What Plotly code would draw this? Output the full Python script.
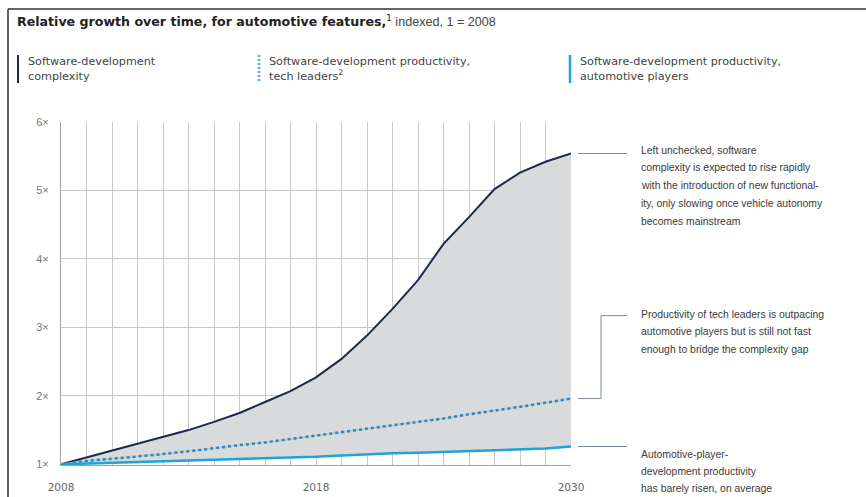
import plotly.graph_objects as go

# ---------------- data ----------------
period_index = list(range(21))            # evenly spaced periods, 2008 -> 2030
x_tick_vals = [0, 10, 20]
x_tick_labels = ["2008", "2018", "2030"]
y_ticks = [1, 2, 3, 4, 5, 6]
y_tick_labels = ["1×", "2×", "3×", "4×", "5×", "6×"]

complexity = [1.00, 1.10, 1.20, 1.31, 1.40, 1.50, 1.62, 1.75, 1.91, 2.07, 2.27,
              2.54, 2.88, 3.27, 3.69, 4.22, 4.61, 5.02, 5.26, 5.42, 5.54]
tech_leaders = [1.00, 1.05, 1.08, 1.11, 1.15, 1.19, 1.24, 1.28, 1.32, 1.37, 1.42,
                1.47, 1.51, 1.56, 1.62, 1.67, 1.73, 1.78, 1.84, 1.90, 1.96]
auto_players = [1.00, 1.01, 1.03, 1.035, 1.045, 1.055, 1.065, 1.075, 1.085, 1.10, 1.11,
                1.13, 1.15, 1.16, 1.17, 1.18, 1.19, 1.21, 1.22, 1.23, 1.26]

title_bold = "Relative growth over time, for automotive features,"
title_rest = " indexed, 1 = 2008"
legend_texts = ["Software-development<br>complexity",
                "Software-development productivity,<br>tech leaders<sup>2</sup>",
                "Software-development productivity,<br>automotive players"]
note1 = ["Left unchecked, software", "complexity is expected to rise rapidly",
         "with the introduction of new functional-", "ity, only slowing once vehicle autonomy",
         "becomes mainstream"]
note2 = ["Productivity of tech leaders is outpacing", "automotive players but is still not fast",
         "enough to bridge the complexity gap"]
note3 = ["Automotive-player-", "development productivity", "has barely risen, on average"]

# ---------------- styling ----------------
W, H = 866, 497
ML, MR, MT, MB = 61, 295, 122, 32
PW, PH = W - ML - MR, H - MT - MB
FONT = "Liberation Sans, Arial, sans-serif"
WIDE = "DejaVu Sans, sans-serif"
NAVY = "#1b2a4a"
CYAN = "#1fa3d8"
DOT = "#3a82ab"
FILL = "#d9dadb"
GRID = "#c9c9c9"
CONN = "#7d8b96"


def px(x):
    return (x - ML) / PW


def py(y):
    return (H - MB - y) / PH


fig = go.Figure()

# gray gap between complexity and automotive productivity
fig.add_trace(go.Scatter(x=period_index, y=auto_players, mode="lines",
                         line=dict(width=0), hoverinfo="skip", showlegend=False))
fig.add_trace(go.Scatter(x=period_index, y=complexity, mode="lines", fill="tonexty",
                         fillcolor=FILL, line=dict(width=0), hoverinfo="skip", showlegend=False))

# lines
fig.add_trace(go.Scatter(x=period_index, y=complexity, mode="lines",
                         line=dict(color=NAVY, width=2), showlegend=False))
fig.add_trace(go.Scatter(x=period_index, y=tech_leaders, mode="lines",
                         line=dict(color="#9ad5ec", width=1.5), showlegend=False))
fig.add_trace(go.Scatter(x=period_index, y=tech_leaders, mode="lines",
                         line=dict(color=DOT, width=2.5, dash="3px,3px"), showlegend=False))
fig.add_trace(go.Scatter(x=period_index, y=auto_players, mode="lines",
                         line=dict(color=CYAN, width=2.5), showlegend=False))

shapes = []
annotations = []

# frame lines
shapes.append(dict(type="line", xref="paper", yref="paper", x0=px(8), x1=px(W + 2),
                   y0=py(9), y1=py(9), line=dict(color="#333333", width=1.5)))
shapes.append(dict(type="line", xref="paper", yref="paper", x0=px(8), x1=px(8),
                   y0=py(9), y1=py(H + 2), line=dict(color="#333333", width=1.5)))

# title
annotations.append(dict(xref="paper", yref="paper", x=px(15), y=py(21), xanchor="left",
                        yanchor="middle", showarrow=False,
                        text=f"<b>{title_bold}</b><sup>1</sup>"
                             f"<span style='font-family:Liberation Sans;color:#444444'>{title_rest}</span>",
                        font=dict(family=WIDE, size=12.6, color="#222222")))

# custom legend
leg_x = [18, 259, 570]
leg_style = [dict(color=NAVY, width=2), dict(color="#3fb0dc", width=2.5, dash="2px,2px"),
             dict(color=CYAN, width=2.5)]
for lx, txt, st in zip(leg_x, legend_texts, leg_style):
    shapes.append(dict(type="line", xref="paper", yref="paper", x0=px(lx), x1=px(lx),
                       y0=py(55), y1=py(83), line=st))
    annotations.append(dict(xref="paper", yref="paper", x=px(lx + 8), y=py(69),
                            xanchor="left", yanchor="middle", align="left", showarrow=False,
                            text=txt, font=dict(family=WIDE, size=11.2, color="#444444")))

# connectors (anchored to line end values)
shapes.append(dict(type="line", xref="paper", yref="y", x0=px(578), x1=px(627),
                   y0=complexity[-1], y1=complexity[-1], line=dict(color=CONN, width=1)))
top2 = (H - MB - 316) / PH * 5 + 1
shapes.append(dict(type="path", xref="paper", yref="y",
                   path=f"M {px(578)} {tech_leaders[-1]} L {px(601)} {tech_leaders[-1]} "
                        f"L {px(601)} {top2} L {px(627)} {top2}",
                   line=dict(color=CONN, width=1)))
shapes.append(dict(type="line", xref="paper", yref="y", x0=px(578), x1=px(627),
                   y0=auto_players[-1], y1=auto_players[-1], line=dict(color=CONN, width=1)))

# notes
for lines, y0, step in [(note1, 150, 17.9), (note2, 314, 17.5), (note3, 454, 17)]:
    for k, t in enumerate(lines):
        annotations.append(dict(xref="paper", yref="paper", x=px(639), y=py(y0 + step * k),
                                xanchor="left", yanchor="middle", showarrow=False, text=t,
                                font=dict(family=FONT, size=10.4, color="#3a3a3a")))

fig.update_layout(
    width=W, height=H,
    margin=dict(l=ML, r=MR, t=MT, b=MB, autoexpand=False),
    paper_bgcolor="white", plot_bgcolor="white",
    font=dict(family=FONT, color="#555555"),
    shapes=shapes, annotations=annotations,
    showlegend=False,
    xaxis=dict(range=[0, 20], tickvals=x_tick_vals, ticktext=x_tick_labels,
               showgrid=True, gridcolor=GRID, gridwidth=1, zeroline=False,
               minor=dict(tick0=0, dtick=1, showgrid=True, gridcolor=GRID, gridwidth=1),
               showline=True, linecolor="#a0a0a0", linewidth=1, automargin=False,
               ticks="outside", ticklen=12, tickcolor="rgba(0,0,0,0)",
               tickfont=dict(family=WIDE, size=10.5, color="#666666"), fixedrange=True),
    yaxis=dict(range=[0.99, 6], tickvals=y_ticks, ticktext=y_tick_labels,
               showgrid=True, gridcolor=GRID, gridwidth=1, zeroline=False,
               showline=True, linecolor="#a0a0a0", linewidth=1, automargin=False,
               ticks="outside", ticklen=9, tickcolor="rgba(0,0,0,0)",
               tickfont=dict(family=FONT, size=11, color="#777777"), fixedrange=True),
)

fig.write_html("out.html")
